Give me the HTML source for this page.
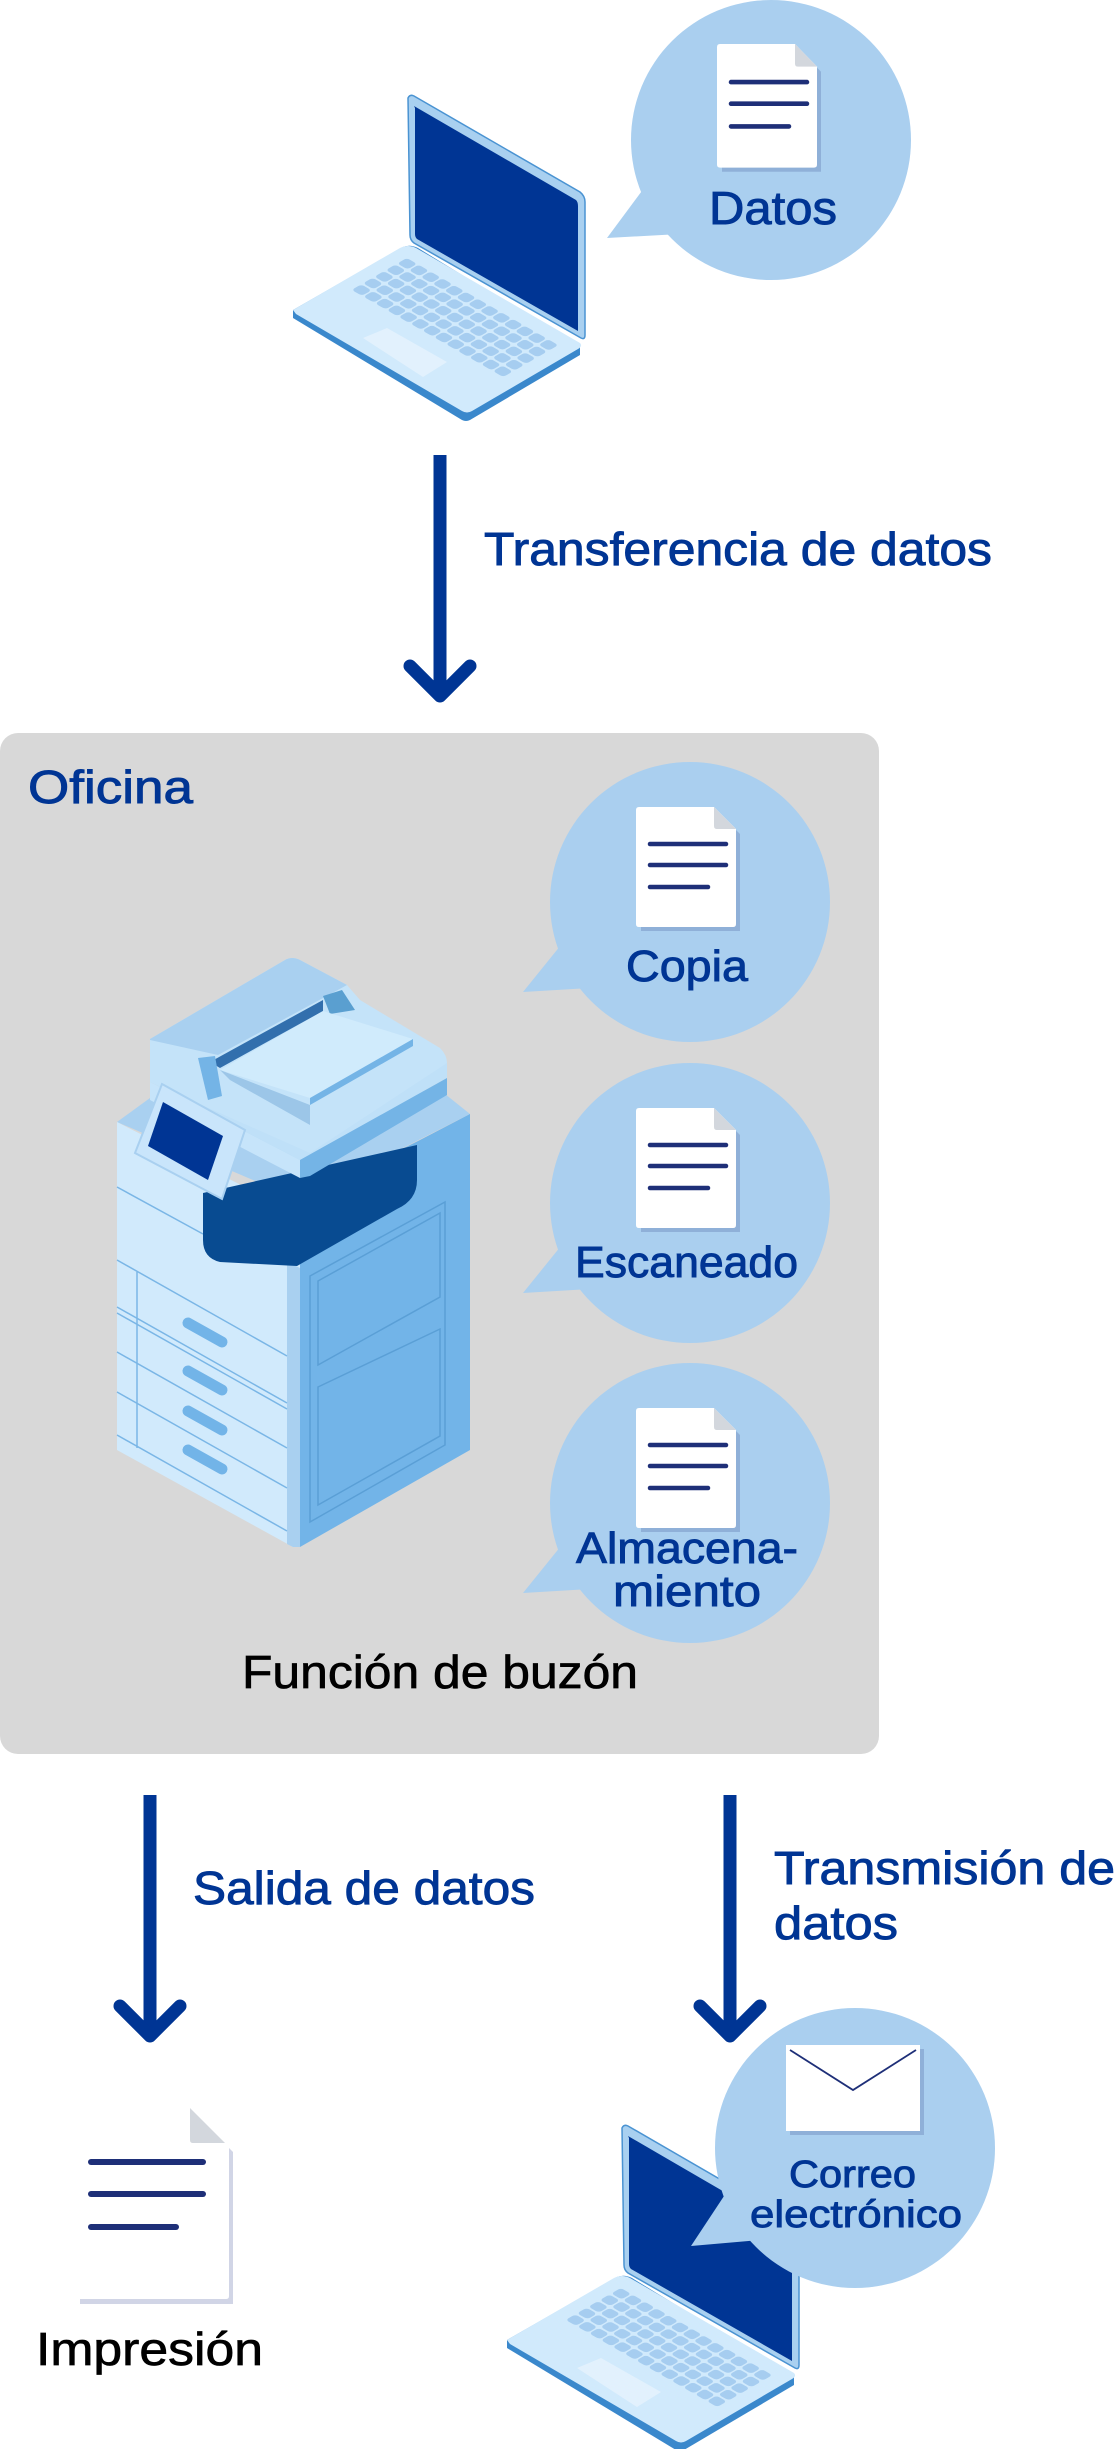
<!DOCTYPE html>
<html><head><meta charset="utf-8"><style>
html,body{margin:0;padding:0;background:#fff;}
svg{display:block;}
text{font-family:"Liberation Sans",sans-serif;}
.b{stroke:#003594;stroke-width:0.9;}
.k{stroke:#000;stroke-width:0.7;}
</style></head><body>
<svg width="1115" height="2449" viewBox="0 0 1115 2449" xmlns="http://www.w3.org/2000/svg">
<defs>
  <g id="doc">
    <path d="M5 5 H82 L104 27 V124 H5 Z" fill="#8fb0d8"/>
    <path d="M0 3 Q0 0 3 0 H78 L100 22 V117 Q100 120 97 120 H3 Q0 120 0 117 Z" fill="#fff"/>
    <path d="M78 0 L100 22 H81 Q78 22 78 19 Z" fill="#d3d7dd"/>
    <g stroke="#1e2f78" stroke-width="4.5" stroke-linecap="round">
      <line x1="14" y1="37" x2="90" y2="37"/>
      <line x1="14" y1="58" x2="90" y2="58"/>
      <line x1="14" y1="80" x2="72" y2="80"/>
    </g>
  </g>
  <g id="laptop">
    <path d="M293 310 L403 247 Q410 244 418 248 L580 347 L580 355 L470 420 Q466 422 462 420 L293 318 Z" fill="#3a88cc"/>
    <path d="M293 310 L400 248 Q408 244 416 248 L580 343 Q583 346 578 349 L472 411 Q467 414 462 411 L296 314 Z" fill="#d1eafc"/>
    <path d="M408 98 Q410 94 414 96 L580 192 Q585 196 585 202 V335 Q585 340 581 338 L414 243 Q410 240 410 235 Z" fill="#a9d0f0" stroke="#4a93d2" stroke-width="1.5"/>
    <path d="M414 106 L576 200 Q578 202 578 206 V331 L417 239 Q415 237 415 234 V108 Z" fill="#003594"/>
    <g transform="matrix(11.77,6.77,-11.4,6.6,407,257)" fill="#a6cdf0">
      <g id="krow">
        <rect x="0.06" y="0.08" width="0.88" height="0.84" rx="0.25"/>
        <rect x="1.06" y="0.08" width="0.88" height="0.84" rx="0.25"/>
        <rect x="2.06" y="0.08" width="0.88" height="0.84" rx="0.25"/>
        <rect x="3.06" y="0.08" width="0.88" height="0.84" rx="0.25"/>
        <rect x="4.06" y="0.08" width="0.88" height="0.84" rx="0.25"/>
        <rect x="5.06" y="0.08" width="0.88" height="0.84" rx="0.25"/>
        <rect x="6.06" y="0.08" width="0.88" height="0.84" rx="0.25"/>
        <rect x="7.06" y="0.08" width="0.88" height="0.84" rx="0.25"/>
        <rect x="8.06" y="0.08" width="0.88" height="0.84" rx="0.25"/>
        <rect x="9.06" y="0.08" width="0.88" height="0.84" rx="0.25"/>
        <rect x="10.06" y="0.08" width="0.88" height="0.84" rx="0.25"/>
        <rect x="11.06" y="0.08" width="0.88" height="0.84" rx="0.25"/>
        <rect x="12.06" y="0.08" width="0.88" height="0.84" rx="0.25"/>
      </g>
      <use href="#krow" transform="translate(0,1)"/>
      <use href="#krow" transform="translate(0,2)"/>
      <use href="#krow" transform="translate(0,3)"/>
      <use href="#krow" transform="translate(0,4)"/>
    </g>
    <path d="M363 338 L387 328 L447 362 L423 377 Z" fill="#e2f1fd"/>
  </g>
</defs>

<use href="#laptop"/>

<circle cx="771" cy="140" r="140" fill="#aacfef"/>
<path d="M650 180 L607 238 L680 234 Z" fill="#aacfef"/>
<use href="#doc" transform="translate(717,44) scale(1,1.03)"/>
<text class="b" x="709" y="224" font-size="46" fill="#003594" textLength="128" lengthAdjust="spacingAndGlyphs">Datos</text>

<line x1="440" y1="455" x2="440" y2="695" stroke="#003594" stroke-width="13"/>
<polyline points="410,666 440,696 470,666" fill="none" stroke="#003594" stroke-width="13" stroke-linecap="round" stroke-linejoin="round"/>
<text class="b" x="484" y="565" font-size="46" fill="#003594" textLength="508" lengthAdjust="spacingAndGlyphs">Transferencia de datos</text>

<rect x="0" y="733" width="879" height="1021" rx="18" fill="#d8d8d8"/>
<text class="b" x="28" y="803" font-size="46" fill="#003594" textLength="165" lengthAdjust="spacingAndGlyphs">Oficina</text>

<g fill="#aacfef">
  <circle cx="690" cy="902" r="140"/>
  <path d="M565 940 L523 992 L590 988 Z"/>
  <circle cx="690" cy="1203" r="140"/>
  <path d="M565 1241 L523 1293 L590 1289 Z"/>
  <circle cx="690" cy="1503" r="140"/>
  <path d="M565 1541 L523 1593 L590 1589 Z"/>
</g>
<use href="#doc" transform="translate(636,807)"/>
<use href="#doc" transform="translate(636,1108)"/>
<use href="#doc" transform="translate(636,1408)"/>
<text class="b" x="626" y="981" font-size="44" fill="#003594" textLength="122" lengthAdjust="spacingAndGlyphs">Copia</text>
<text class="b" x="575" y="1277" font-size="44" fill="#003594" textLength="223" lengthAdjust="spacingAndGlyphs">Escaneado</text>
<text class="b" x="576" y="1563" font-size="44" fill="#003594" textLength="222" lengthAdjust="spacingAndGlyphs">Almacena-</text>
<text class="b" x="613" y="1606" font-size="44" fill="#003594" textLength="148" lengthAdjust="spacingAndGlyphs">miento</text>
<text class="k" x="242" y="1688" font-size="46" fill="#000" textLength="396" lengthAdjust="spacingAndGlyphs">Función de buzón</text>

<g>
  <path d="M117 1122 L150 1098 L440 1090 L470 1114 L300 1200 Z" fill="#a9d0f0"/>
  <path d="M117 1122 L300 1215 L300 1547 L293 1547 L117 1450 Z" fill="#d1eafc"/>
  <path d="M287 1262 L300 1268 L300 1547 L293 1547 L287 1544 Z" fill="#a9d0f0"/>
  <path d="M300 1268 L470 1114 L470 1450 L300 1547 Z" fill="#72b4e8"/>
  <path d="M300 1268 L470 1178 L470 1114 L420 1140 L300 1200 Z" fill="#72b4e8"/>
  <g fill="none" stroke="#5a9fd6" stroke-width="1.5">
    <path d="M310 1276 L445 1202 L445 1445 L310 1522 Z"/>
    <path d="M318 1281 L440 1213 L440 1297 L318 1365 Z"/>
    <path d="M318 1387 L440 1329 L440 1436 L318 1505 Z"/>
  </g>
  <g stroke="#7ab6e6" stroke-width="1.5" fill="none">
    <line x1="117" y1="1187" x2="203" y2="1234"/>
    <line x1="117" y1="1260" x2="287" y2="1356"/>
    <line x1="117" y1="1307" x2="287" y2="1403"/>
    <line x1="117" y1="1313" x2="287" y2="1409"/>
    <line x1="117" y1="1352" x2="287" y2="1448"/>
    <line x1="117" y1="1392" x2="287" y2="1488"/>
    <line x1="117" y1="1435" x2="287" y2="1531"/>
    <line x1="137" y1="1272" x2="137" y2="1448"/>
  </g>
  <g stroke="#72b4e8" stroke-width="11" stroke-linecap="round">
    <line x1="188" y1="1323" x2="222" y2="1342"/>
    <line x1="188" y1="1371" x2="222" y2="1390"/>
    <line x1="188" y1="1411" x2="222" y2="1430"/>
    <line x1="188" y1="1450" x2="222" y2="1469"/>
  </g>
  <path d="M203 1193 L417 1145 L417 1180 Q417 1200 397 1209 L297 1266 L220 1262 Q203 1258 203 1240 Z" fill="#084b91"/>
  <path d="M150 1082 L300 1160 L447 1078 L447 1063 L310 1140 L150 1060 Z" fill="#bfe0f8"/>
  <path d="M150 1082 L300 1160 L300 1178 L150 1100 Z" fill="#c6e4fa"/>
  <path d="M300 1160 L447 1078 L447 1095 L310 1176 L300 1178 Z" fill="#74b4e6"/>
  <path d="M150 1039 L285 960 Q292 956 300 960 L347 985 L360 1000 L440 1048 Q447 1055 447 1063 L310 1153 L150 1082 Z" fill="#c4e3f9"/>
  <path d="M150 1039 L285 960 Q292 956 300 960 L347 985 L218 1055 L150 1040 Z" fill="#a9d0f0"/>
  <path d="M210 1062 L323 1000 L323 1011 L220 1068 Z" fill="#326fad"/>
  <path d="M323 996 L342 990 L355 1010 L330 1014 Z" fill="#5a9fd0"/>
  <path d="M220 1070 L323 1011 L413 1039 L310 1098 Z" fill="#d0ebfc"/>
  <path d="M310 1098 L413 1039 L413 1046 L310 1105 Z" fill="#74b4e6"/>
  <path d="M220 1070 L310 1105 L310 1125 L230 1080 Z" fill="#9cc6e8"/>
  <path d="M198 1058 L215 1056 L222 1096 L208 1100 Z" fill="#74b4e6"/>
  <path d="M162 1084 L245 1130 L222 1199 L135 1153 Z" fill="#c9e5fb" stroke="#a9d0f0" stroke-width="2"/>
  <path d="M163 1102 L223 1136 L208 1180 L148 1146 Z" fill="#003594"/>
</g>

<line x1="150" y1="1795" x2="150" y2="2035" stroke="#003594" stroke-width="13"/>
<polyline points="120,2006 150,2036 180,2006" fill="none" stroke="#003594" stroke-width="13" stroke-linecap="round" stroke-linejoin="round"/>
<text class="b" x="193" y="1904" font-size="46" fill="#003594" textLength="342" lengthAdjust="spacingAndGlyphs">Salida de datos</text>

<line x1="730" y1="1795" x2="730" y2="2035" stroke="#003594" stroke-width="13"/>
<polyline points="700,2006 730,2036 760,2006" fill="none" stroke="#003594" stroke-width="13" stroke-linecap="round" stroke-linejoin="round"/>
<text class="b" x="774" y="1884" font-size="46" fill="#003594" textLength="341" lengthAdjust="spacingAndGlyphs">Transmisión de</text>
<text class="b" x="774" y="1939" font-size="46" fill="#003594" textLength="124" lengthAdjust="spacingAndGlyphs">datos</text>

<g>
  <path d="M80 2114 H195 L233 2152 V2304 H80 Z" fill="#d1d5e6"/>
  <path d="M76 2108 H190 L229 2147 V2296 Q229 2299 226 2299 H79 Q76 2299 76 2296 Z" fill="#fff"/>
  <path d="M190 2108 L225 2143 H193 Q190 2143 190 2140 Z" fill="#d3d7dd"/>
  <g stroke="#1e2f78" stroke-width="6" stroke-linecap="round">
    <line x1="91" y1="2162" x2="203" y2="2162"/>
    <line x1="91" y1="2194" x2="203" y2="2194"/>
    <line x1="91" y1="2227" x2="176" y2="2227"/>
  </g>
</g>
<text class="k" x="36" y="2365" font-size="46" fill="#000" textLength="227" lengthAdjust="spacingAndGlyphs">Impresión</text>

<use href="#laptop" transform="translate(214,2030)"/>

<ellipse cx="855" cy="2148" rx="140" ry="140" fill="#aacfef"/>
<path d="M728 2190 L691 2246 L760 2240 Z" fill="#aacfef"/>
<rect x="790" y="2049" width="134" height="86" fill="#8fb0d8"/>
<rect x="786" y="2045" width="134" height="86" fill="#fff"/>
<polyline points="790,2050 853,2090 916,2050" fill="none" stroke="#1e2f78" stroke-width="1.8"/>
<text class="b" x="789" y="2187" font-size="38" fill="#003594" textLength="127" lengthAdjust="spacingAndGlyphs">Correo</text>
<text class="b" x="750" y="2227" font-size="38" fill="#003594" textLength="212" lengthAdjust="spacingAndGlyphs">electrónico</text>
</svg>
</body></html>
